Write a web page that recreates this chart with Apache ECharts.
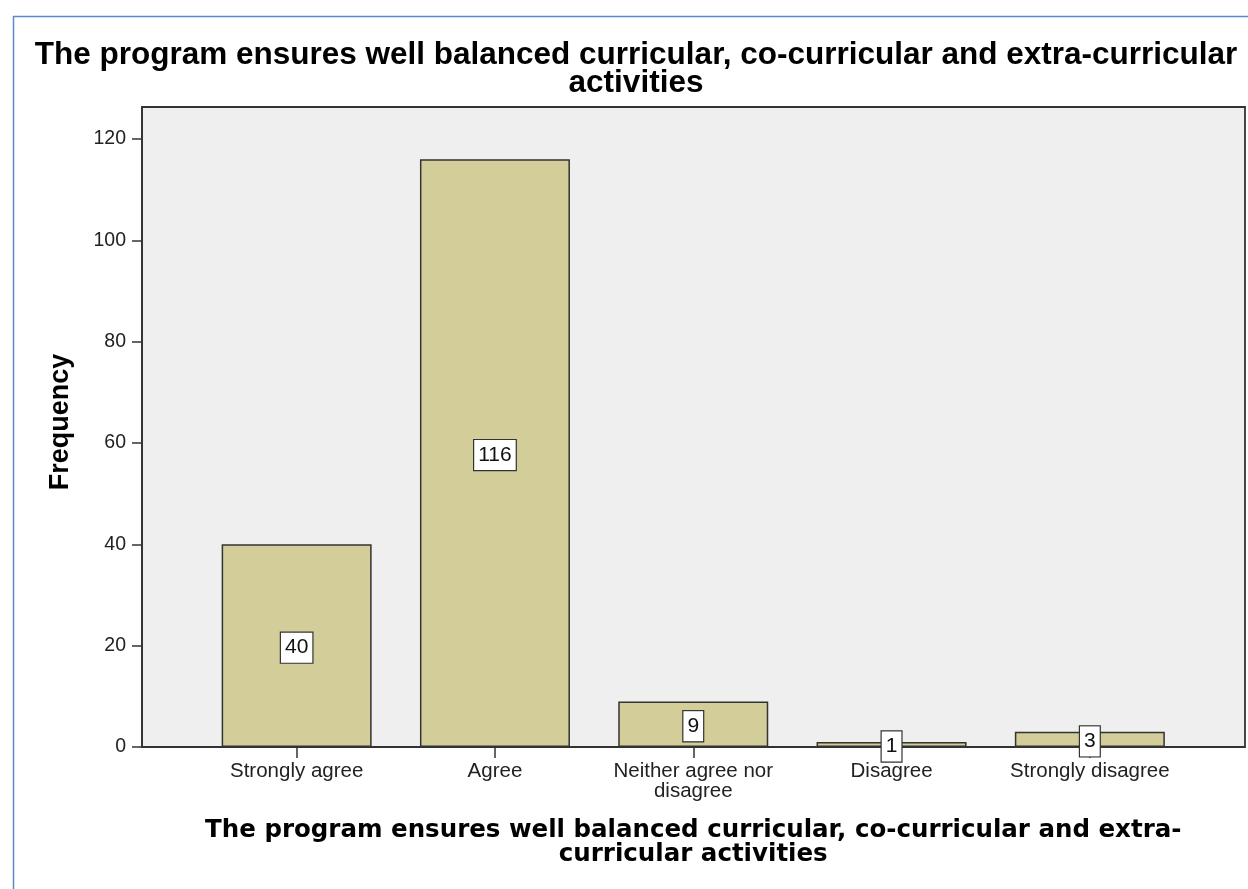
<!DOCTYPE html>
<html>
<head>
<meta charset="utf-8">
<script src="https://cdn.jsdelivr.net/npm/echarts@6/dist/echarts.min.js"></script>
<style>
html,body{margin:0;padding:0;background:#fff;}
#chart{width:1248px;height:889px;}
</style>
</head>
<body>
<div id="chart"></div>
<script>
var categories = ['Strongly agree', 'Agree', 'Neither agree nor\ndisagree', 'Disagree', 'Strongly disagree'];
var frequencies = [40, 116, 9, 1, 3];
var yTicks = [0, 20, 40, 60, 80, 100, 120];
var titleText = 'The program ensures well balanced curricular, co-curricular and extra-curricular\nactivities';
var xName = 'The program ensures well balanced curricular, co-curricular and extra-\ncurricular activities';
var yName = 'Frequency';

var yMax = 126.3;
var chart = echarts.init(document.getElementById('chart'), null, {renderer: 'canvas'});
chart.setOption({
  animation: false,
  backgroundColor: '#ffffff',
  title: {
    text: titleText,
    left: 636,
    top: 41,
    textAlign: 'center',
    padding: 0,
    textStyle: {fontFamily: 'Liberation Sans, Arial, sans-serif', fontWeight: 'bold', fontSize: 31.5, lineHeight: 28, color: '#000'}
  },
  graphic: [{
    type: 'rect',
    shape: {x: 13.5, y: 16.5, width: 1400, height: 1000},
    style: {fill: 'none', stroke: '#5b89c9', lineWidth: 1.5},
    silent: true, z: 0
  }],
  grid: [
    {left: 142, top: 107, width: 1103, height: 640, show: true, backgroundColor: '#efefef', borderColor: '#333', borderWidth: 1.8},
    {left: 197.5, top: 107, width: 991.5, height: 640}
  ],
  xAxis: [
    {gridIndex: 0, type: 'value', min: 0, max: 1, show: false},
    {
      gridIndex: 1, type: 'category', data: categories, boundaryGap: true,
      axisLine: {show: false},
      axisTick: {show: true, alignWithLabel: true, length: 11, lineStyle: {color: '#333', width: 1.5}},
      axisLabel: {margin: 14, fontFamily: 'Liberation Sans, Arial, sans-serif', fontSize: 20.5, lineHeight: 20, color: '#222', interval: 0},
      name: xName, nameLocation: 'middle', nameGap: 72,
      nameTextStyle: {fontFamily: 'DejaVu Sans, sans-serif', fontWeight: 'bold', fontSize: 24.5, lineHeight: 24, color: '#000'}
    }
  ],
  yAxis: [
    {
      gridIndex: 0, type: 'value', min: 0, max: yMax,
      axisLine: {show: true, lineStyle: {color: '#333', width: 1.8}},
      axisTick: {show: true, length: 10, customValues: yTicks, lineStyle: {color: '#333', width: 1.5}},
      axisLabel: {margin: 16, customValues: yTicks, fontFamily: 'Liberation Sans, Arial, sans-serif', fontSize: 19.5, color: '#222'},
      splitLine: {show: false},
      name: yName, nameLocation: 'middle', nameGap: 68,
      nameTextStyle: {fontFamily: 'Liberation Sans, Arial, sans-serif', fontWeight: 'bold', fontSize: 27, lineHeight: 27, color: '#000', padding: [0, 0, 0, 10]}
    },
    {gridIndex: 1, type: 'value', min: 0, max: yMax, show: false}
  ],
  series: [{
    type: 'bar',
    xAxisIndex: 1, yAxisIndex: 1,
    data: frequencies,
    barWidth: 150,
    itemStyle: {color: '#d3ce99', borderColor: '#333', borderWidth: 1.5},
    label: {
      show: true, position: 'inside', offset: [0, 2],
      fontFamily: 'Liberation Sans, Arial, sans-serif', fontSize: 21, lineHeight: 23, color: '#111',
      backgroundColor: '#fff', borderColor: '#333', borderWidth: 1.2, padding: [4, 4, 3, 4]
    },
    z: 3
  }]
});
</script>
</body>
</html>
